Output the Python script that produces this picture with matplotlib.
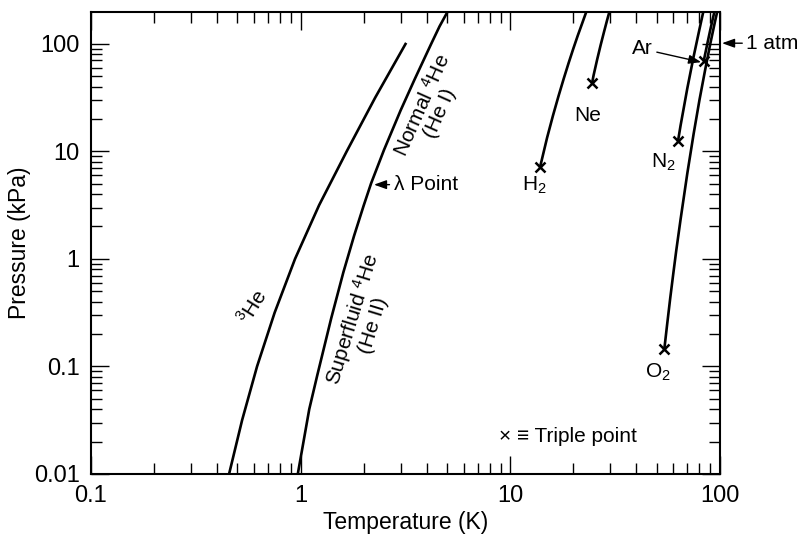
import matplotlib
matplotlib.use("Agg")
import matplotlib.pyplot as plt
from matplotlib.ticker import FixedLocator, FixedFormatter, LogLocator, NullFormatter

plt.rcParams['font.family'] = ['Liberation Sans', 'DejaVu Sans']
plt.rcParams['mathtext.fontset'] = 'custom'
plt.rcParams['mathtext.rm'] = 'Liberation Sans'
plt.rcParams['mathtext.it'] = 'Liberation Sans:italic'

# vapour pressure curves, temperature (K) and pressure (kPa)
he3_T = [0.456, 0.526, 0.62, 0.752, 0.941, 1.226, 1.66, 2.27, 3.17, 3.19]
he3_P = [0.01, 0.0316, 0.1, 0.316, 1.0, 3.16, 10, 31.6, 100, 102]

he4_T = [0.97, 1.1, 1.2, 1.4, 1.6, 1.8, 2.0, 2.17, 2.5, 3.0, 3.5, 4.0, 4.2, 4.6, 5.0, 5.2]
he4_P = [0.01, 0.04, 0.082, 0.28, 0.75, 1.64, 3.13, 5.04, 10.3, 24, 46.7, 81.6, 100, 145, 195, 227]

h2_T = [13.9, 15, 16, 17, 18, 19, 20, 21, 22, 23, 24]
h2_P = [7.2, 13.4, 21.5, 32.6, 47.3, 66.3, 90, 119, 153, 195, 245]

ne_T = [24.6, 25, 26, 27, 28, 29, 30]
ne_P = [43.4, 51, 71.5, 97, 128, 166, 211]

n2_T = [63.2, 65, 70, 75, 77.4, 80, 83, 85]
n2_P = [12.5, 17.4, 38.6, 76, 101.3, 137, 190, 229]

ar_T = [83.8, 85, 87.3, 90, 95]
ar_P = [68.9, 79, 101.3, 133.7, 213]

o2_T = [54.4, 56, 58, 60, 62, 65, 70, 75, 80, 85, 90.2, 95, 100]
o2_P = [0.146, 0.24, 0.43, 0.73, 1.2, 2.33, 6.25, 14.5, 30.1, 56.3, 101.3, 163, 254]

# triple points
tp_T = [13.9, 24.6, 63.2, 83.8, 54.4]
tp_P = [7.2, 43.4, 12.5, 68.9, 0.146]

xticks = [0.1, 1, 10, 100]
xlabels = ["0.1", "1", "10", "100"]
yticks = [0.01, 0.1, 1, 10, 100]
ylabels = ["0.01", "0.1", "1", "10", "100"]

fig = plt.figure(figsize=(7.98, 5.41), dpi=100)
ax = fig.add_axes([0.114, 0.124, 0.788, 0.854])

lw = 1.9
for T, P in [(he3_T, he3_P), (he4_T, he4_P), (h2_T, h2_P), (ne_T, ne_P),
             (n2_T, n2_P), (ar_T, ar_P), (o2_T, o2_P)]:
    ax.plot(T, P, color='black', lw=lw, solid_capstyle='butt')
ax.plot(tp_T, tp_P, ls='none', marker='x', ms=7, mew=1.8, color='black')

ax.set_xscale('log')
ax.set_yscale('log')
ax.set_xlim(0.1, 100)
ax.set_ylim(0.01, 198)

ax.xaxis.set_major_locator(FixedLocator(xticks))
ax.xaxis.set_major_formatter(FixedFormatter(xlabels))
ax.yaxis.set_major_locator(FixedLocator(yticks))
ax.yaxis.set_major_formatter(FixedFormatter(ylabels))
ax.xaxis.set_minor_locator(LogLocator(base=10, subs=range(2, 10), numticks=20))
ax.yaxis.set_minor_locator(LogLocator(base=10, subs=range(2, 10), numticks=20))
ax.xaxis.set_minor_formatter(NullFormatter())
ax.yaxis.set_minor_formatter(NullFormatter())

ax.tick_params(which='both', direction='in', top=True, right=True, width=1.0)
ax.tick_params(which='major', length=13, labelsize=17, pad=8)
ax.tick_params(which='minor', length=8)
for s in ax.spines.values():
    s.set_linewidth(1.5)

ax.set_xlabel("Temperature (K)", fontsize=16.5, labelpad=3)
ax.set_ylabel("Pressure (kPa)", fontsize=16.5, labelpad=2)

fs = 15
ax.text(0.593, 0.357, r"$^{3}$He", fontsize=fs, rotation=58, ha='center', va='center')
ax.text(1.95, 0.26, "Superfluid $^{4}$He\n(He II)", fontsize=fs, rotation=73,
        ha='center', va='center', multialignment='center', linespacing=0.95)
ax.text(4.15, 24.8, "Normal $^{4}$He\n(He I)", fontsize=fs, rotation=66,
        ha='center', va='center', multialignment='center', linespacing=0.95)
ax.text(13.0, 4.87, "H$_2$", fontsize=fs, ha='center', va='center')
ax.text(23.3, 21.4, "Ne", fontsize=fs, ha='center', va='center')
ax.text(53.7, 7.98, "N$_2$", fontsize=fs, ha='center', va='center')
ax.text(50.8, 0.0889, "O$_2$", fontsize=fs, ha='center', va='center')
ax.text(8.85, 0.0221, "\u00d7 \u2261 Triple point", fontsize=fs, ha='left', va='center')

arrow = dict(arrowstyle='-|>,head_length=0.5,head_width=0.18', color='black', lw=1.0,
             shrinkA=1, shrinkB=0)
ax.annotate("\u03bb Point", xy=(2.24, 4.9), xytext=(2.78, 4.9), fontsize=fs,
            ha='left', va='center', arrowprops=arrow)
ax.annotate("Ar", xy=(81.5, 67.5), xytext=(42.7, 89.7), fontsize=fs,
            ha='center', va='center', arrowprops=arrow)
ax.annotate("1 atm", xy=(102.5, 101.3), xytext=(134, 101.3), fontsize=fs,
            ha='left', va='center', arrowprops=arrow, annotation_clip=False)

fig.savefig("out.png", dpi=100)
